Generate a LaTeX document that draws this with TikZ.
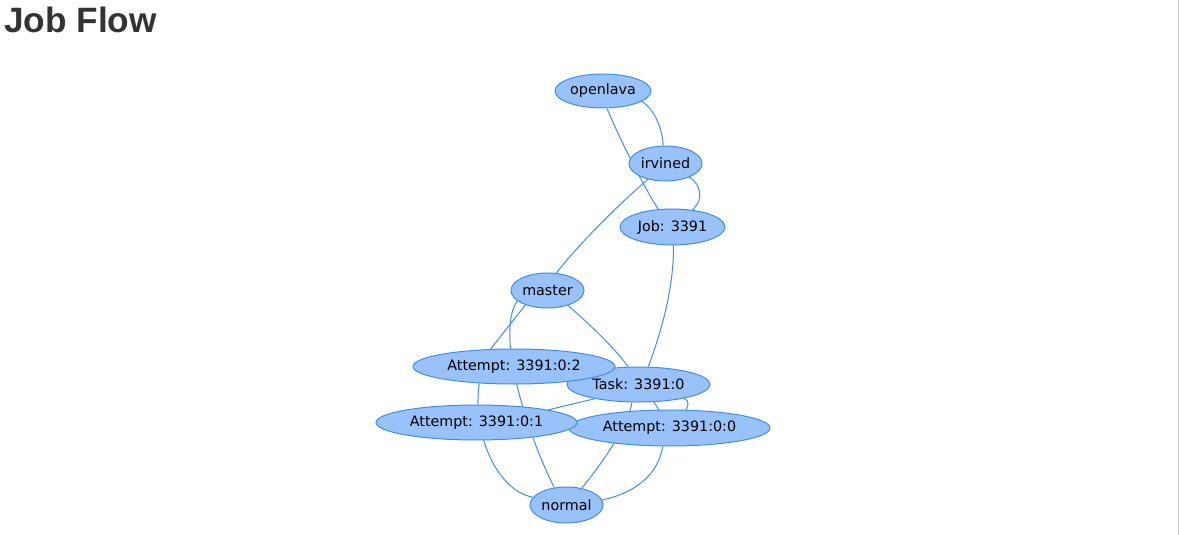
\documentclass[tikz,border=0pt]{standalone}
\usepackage{fontspec}
\setmainfont{DejaVu Sans}
\newfontfamily\titlefont{Liberation Sans}
\usetikzlibrary{shapes.geometric,backgrounds}

\definecolor{nodefill}{RGB}{153,194,250}
\definecolor{nodeline}{RGB}{66,139,238}
\definecolor{titlegray}{RGB}{51,51,51}
\definecolor{rulegray}{RGB}{200,200,200}

\tikzset{
  jobstate/.style={ellipse, draw=nodeline, fill=nodefill, line width=1pt,
    inner sep=0pt, font=\fontsize{14.3}{17}\selectfont},
  flow/.style={draw=nodeline, line width=1pt},
}

\begin{document}
\begin{tikzpicture}[x=1pt,y=-1pt]
\useasboundingbox (0,0) rectangle (1179,535);
\draw[rulegray, line width=1pt] (1178.5,0) -- (1178.5,535);
\node[anchor=base west, inner sep=0pt, text=titlegray,
  font=\titlefont\bfseries\fontsize{35.2}{40}\selectfont] (title) at (4,33) {Job Flow};

\node[jobstate, minimum width=96pt, minimum height=34pt] (openlava) at (603,91) {openlava};
\node[jobstate, minimum width=73pt, minimum height=35pt] (irvined) at (665.5,163.5) {irvined};
\node[jobstate, minimum width=105pt, minimum height=36pt] (job) at (672.5,227) {Job: 3391};
\node[jobstate, minimum width=73pt, minimum height=35pt] (master) at (547.5,290.5) {master};
\node[jobstate, minimum width=143pt, minimum height=35pt] (task) at (638.5,384.5) {Task: 3391:0};
\node[jobstate, minimum width=202pt, minimum height=35pt] (att2) at (514,366.5) {Attempt: 3391:0:2};
\node[jobstate, minimum width=201pt, minimum height=36pt] (att0) at (669.5,428) {Attempt: 3391:0:0};
\node[jobstate, minimum width=201pt, minimum height=35pt] (att1) at (476.5,422.5) {Attempt: 3391:0:1};
\node[jobstate, minimum width=73pt, minimum height=36pt] (normal) at (566.5,505) {normal};

\begin{scope}[on background layer]
\draw[flow] (openlava.345) .. controls (652,108) and (662,124) .. (irvined.97);
\draw[flow] (openlava.283) .. controls (618,135) and (640,180) .. (job.129);
\draw[flow] (irvined.330) .. controls (700,183) and (705,200) .. (job.41);
\draw[flow] (irvined.222) .. controls (618,205) and (578,245) .. (master.63);
\draw[flow] (job.273) .. controls (674,290) and (660,335) .. (task.61);
\draw[flow] (master.324) .. controls (590,325) and (612,345) .. (task.120);
\draw[flow] (master.213) -- (att2.143);
\draw[flow] (master.199) .. controls (494,335) and (530,440) .. (normal.125);
\draw[flow] (att2.206) .. controls (472,430) and (495,490) .. (normal.167);
\draw[flow] (task.198) -- (att1.10);
\draw[flow] (task.250) .. controls (628,425) and (605,460) .. (normal.48);
\draw[flow] (task.311) -- (att0.120);
\draw[flow] (task.343) .. controls (690,401) and (688,406) .. (att0.48);
\draw[flow] (att0.250) .. controls (658,475) and (635,493) .. (normal.8);
\end{scope}
\end{tikzpicture}
\end{document}
